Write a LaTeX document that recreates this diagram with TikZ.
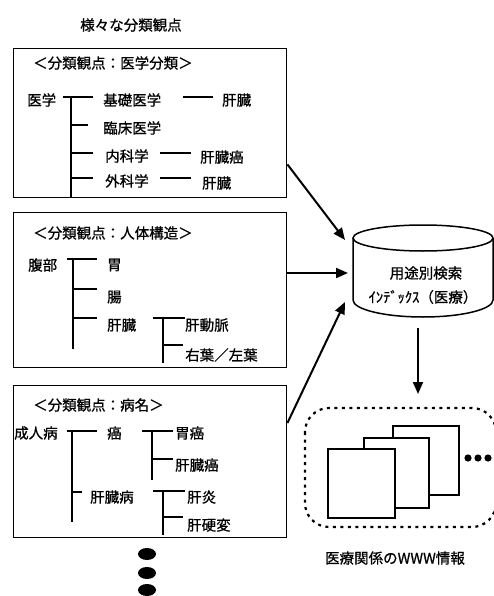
\documentclass[tikz,border=0pt]{standalone}
\usepackage{fontspec}
\setmainfont{Noto Sans CJK JP}[FakeBold=0.8]
\usetikzlibrary{arrows.meta,calc}
\begin{document}
\begin{tikzpicture}[x=1pt,y=-1pt,
  lbl/.style={anchor=west,inner sep=0pt,font=\fontsize{14.5}{16}\selectfont},
  tree/.style={line width=1.4pt},
  box/.style={draw,line width=1.4pt,anchor=north west,inner sep=0pt},
  flow/.style={line width=2pt,-{Triangle[length=12pt,width=10pt]}},
  page/.style={draw,fill=white,line width=1.5pt,anchor=north west,inner sep=0pt}]
\useasboundingbox (0,0) rectangle (493,596);
% title
\node[lbl,anchor=center] (title) at (131,25) {様々な分類観点};
% ---------- box 1
\node[box,minimum width=273pt,minimum height=149pt] (box1) at (13,48) {};
\node[lbl] (h1) at (33,63) {＜分類観点：医学分類＞};
\node[lbl] (igaku) at (27,100) {医学};
\node[lbl] (kiso) at (103,100) {基礎医学};
\node[lbl] (rinsho) at (103,128) {臨床医学};
\node[lbl] (naika) at (105,156) {内科学};
\node[lbl] (geka) at (105,181) {外科学};
\node[lbl] (kz1) at (222,100) {肝臓};
\node[lbl] (kg1) at (200,157) {肝臓癌};
\node[lbl] (kz2) at (202,183) {肝臓};
\draw[tree] (63,97)--(93,97) (71,97)--(71,197)
  (71,125)--(88,125) (71,153)--(93,153) (71,178)--(93,178)
  (183,97)--(213,97) (160,153)--(191,153) (160,178)--(191,178);
% ---------- box 2
\node[box,minimum width=273pt,minimum height=155pt] (box2) at (13,212) {};
\node[lbl] (h2) at (33,233) {＜分類観点：人体構造＞};
\node[lbl] (fukubu) at (28,265) {腹部};
\node[lbl] (i) at (107,265) {胃};
\node[lbl] (cho) at (107,297) {腸};
\node[lbl] (kz3) at (107,325) {肝臓};
\node[lbl] (kdm) at (185,325) {肝動脈};
\node[lbl] (yo) at (185,355) {右葉／左葉};
\draw[tree] (67,259)--(97,259) (73,259)--(73,349)
  (73,289)--(97,289) (73,318)--(97,318)
  (153,318)--(185,318) (163,318)--(163,363) (163,345)--(183,345);
% ---------- box 3
\node[box,minimum width=273pt,minimum height=152pt] (box3) at (13,385) {};
\node[lbl] (h3) at (33,405) {＜分類観点：病名＞};
\node[lbl] (seijin) at (14,433) {成人病};
\node[lbl] (gan) at (107,433) {癌};
\node[lbl] (igan) at (175,433) {胃癌};
\node[lbl] (kg2) at (175,465) {肝臓癌};
\node[lbl] (kzb) at (90,497) {肝臓病};
\node[lbl] (ken) at (187,497) {肝炎};
\node[lbl] (kkh) at (187,525) {肝硬変};
\draw[tree] (67,431)--(97,431) (72,431)--(72,522) (72,492)--(82,492)
  (142,431)--(173,431) (152,431)--(152,480) (152,459)--(173,459)
  (153,491)--(185,491) (163,491)--(163,535) (163,517)--(183,517);
% vertical dots
\foreach \yy in {554,573,590}
  \fill (147,\yy) ellipse [x radius=9,y radius=6];
% ---------- cylinder
\node[minimum width=140pt,minimum height=92pt,inner sep=0pt] (db) at (423,271) {};
\draw[line width=1.5pt,fill=white] (353,238) -- (353,300)
  arc[start angle=180,end angle=360,x radius=70,y radius=-17] -- (493,238);
\draw[line width=1.5pt] (423,238) ellipse [x radius=70,y radius=13];
\node[lbl,anchor=center] (db1) at (426,273) {用途別検索};
\node[lbl,anchor=center] (db2) at (423,297) {ｲﾝﾃﾞｯｸｽ（医療）};
% arrows into cylinder
\coordinate (t1) at (345,240);
\coordinate (t2) at (348,273);
\coordinate (t3) at (345,302);
\draw[flow] ($(box1.south east)+(0,-34)$) -- (t1);
\draw[flow] (box2.east |- t2) -- (t2);
\draw[flow] ($(box3.north east)+(0,38)$) -- (t3);
% down arrow
\coordinate (dtop) at (418,328);
\coordinate (dbot) at (418,394);
\draw[flow] (dtop) -- (dbot);
% ---------- web pages group
\draw[line width=2.2pt,dash pattern=on 3pt off 4.5pt,rounded corners=24pt] (305,408) rectangle (496,527);
\node[page,minimum width=66pt,minimum height=69pt] (p3) at (392,425) {};
\node[page,minimum width=65pt,minimum height=70pt] (p2) at (363,437) {};
\node[page,minimum width=67pt,minimum height=69pt] (p1) at (327,448) {};
\foreach \xx in {468,478,488} \fill (\xx,458) circle (3.6);
\node[lbl,anchor=center] (cap) at (395,558) {医療関係のWWW情報};
\end{tikzpicture}
\end{document}
